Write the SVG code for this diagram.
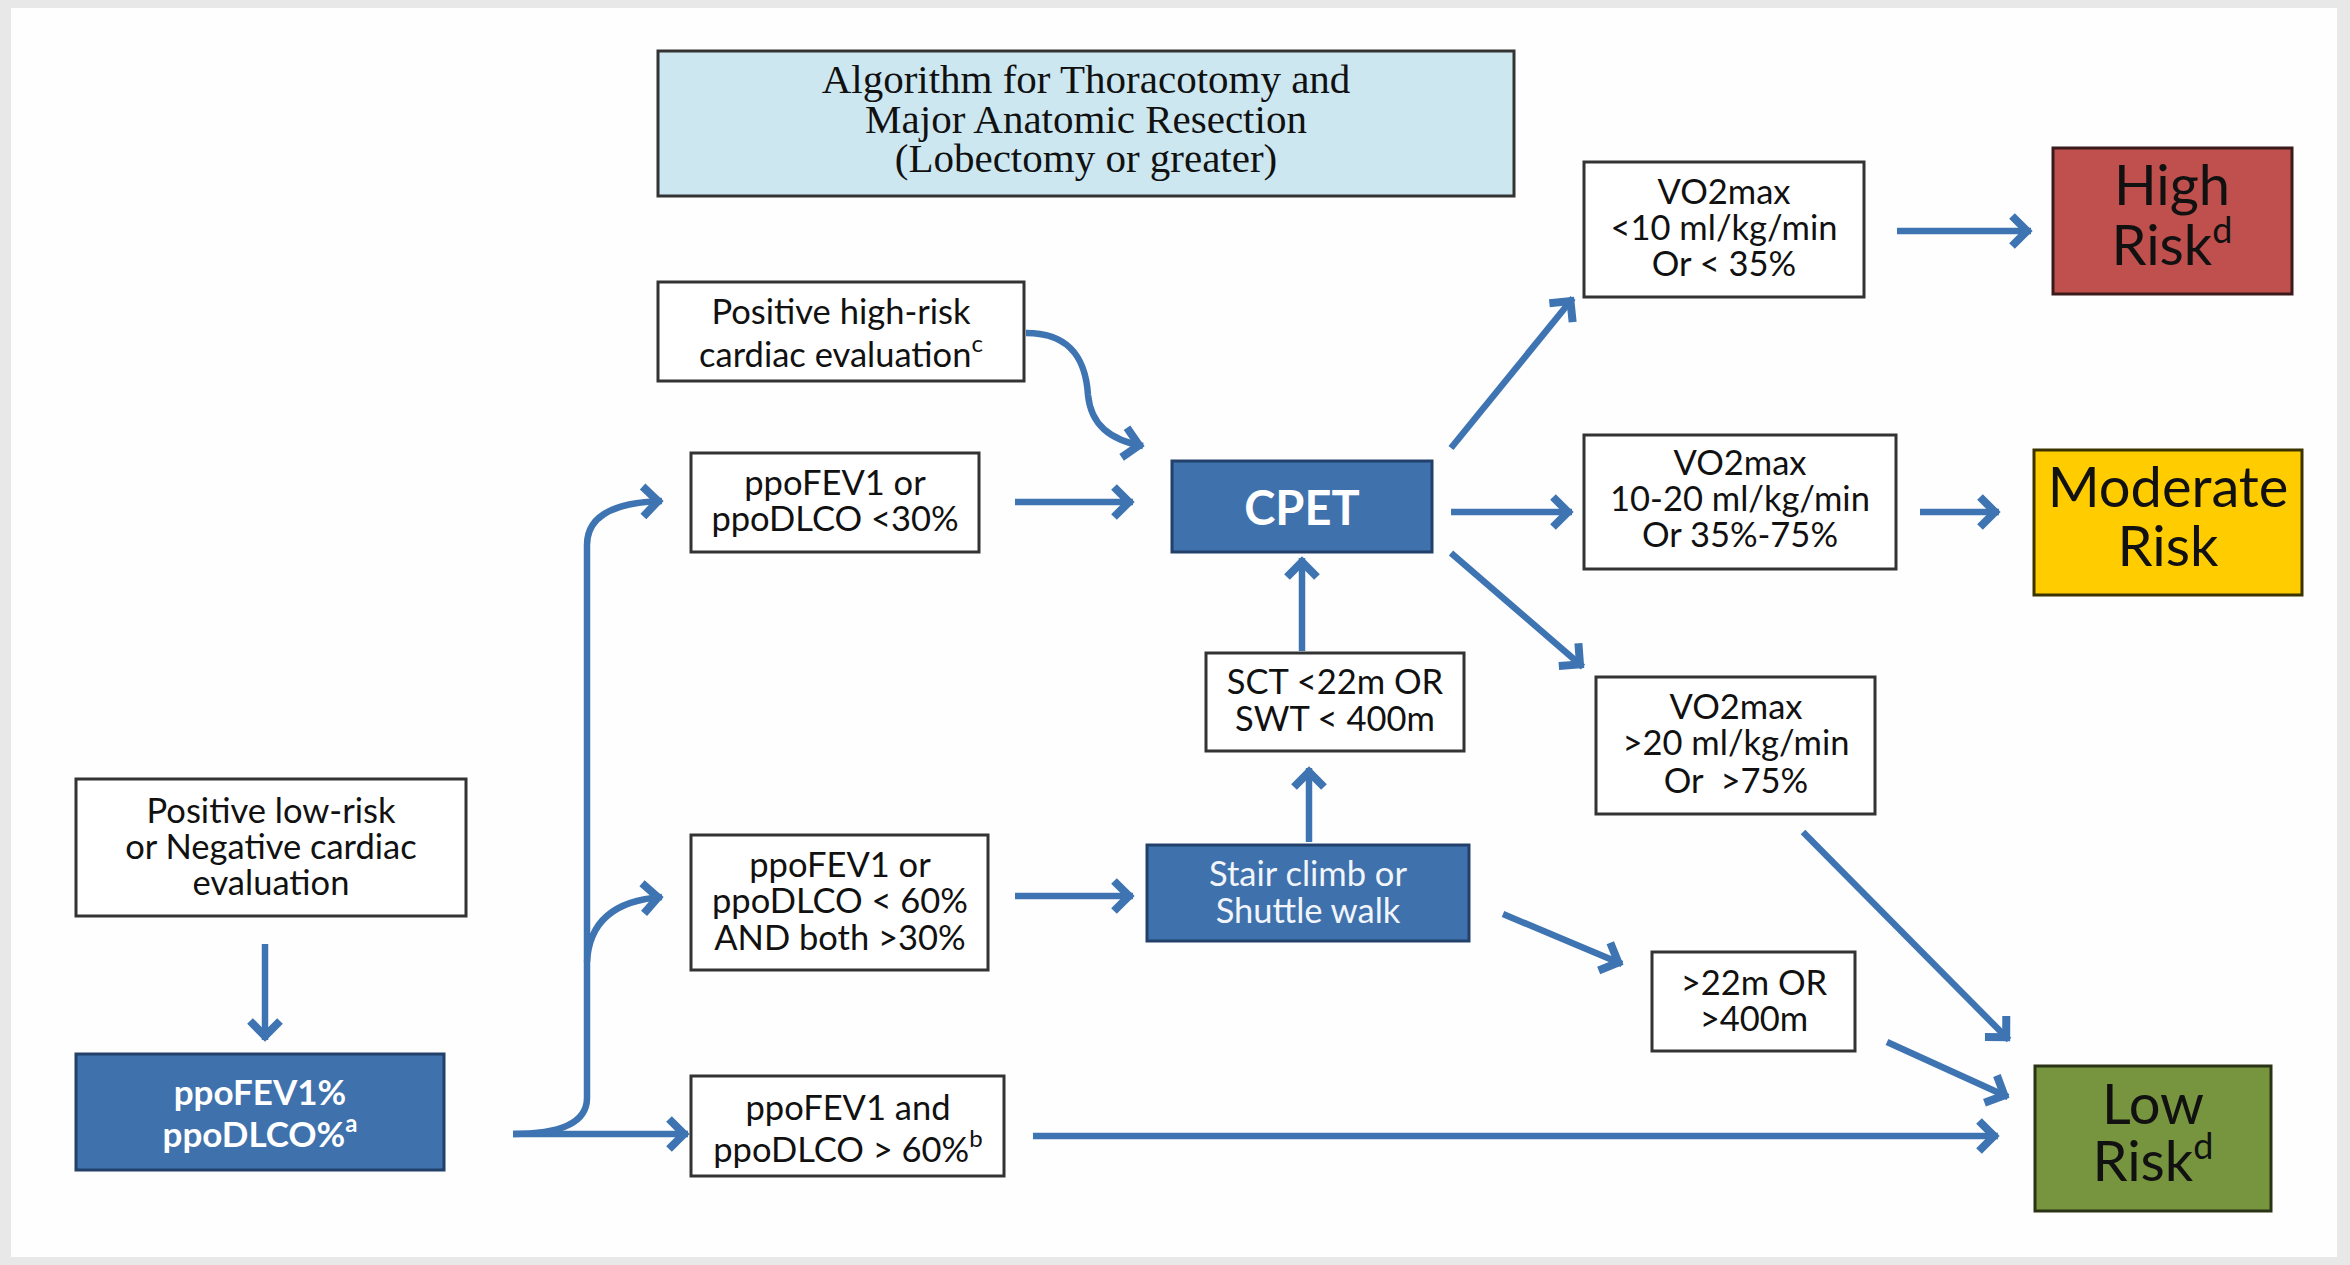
<svg xmlns="http://www.w3.org/2000/svg" width="2350" height="1265" viewBox="0 0 2350 1265">
<defs>
<style>
.box{fill:#ffffff;stroke:#333333;stroke-width:3}
.blue{fill:#3f72ad;stroke:#22406a;stroke-width:3}
.t{font-family:Lato,"Open Sans","Liberation Sans",sans-serif;font-size:34.5px;fill:#111111;text-anchor:middle}
.tw{font-family:Lato,"Open Sans","Liberation Sans",sans-serif;font-size:34.5px;fill:#f2f5fa;text-anchor:middle}
.tb{font-family:Lato,"Open Sans","Liberation Sans",sans-serif;font-weight:bold;fill:#ffffff;text-anchor:middle}
.big{font-family:Lato,"Open Sans","Liberation Sans",sans-serif;font-size:56px;fill:#111111;text-anchor:middle}
.title{font-family:"Liberation Serif","Times New Roman",serif;font-size:41px;fill:#111111;text-anchor:middle}
.sup{font-size:24px}
.bsup{font-size:36px}
.c{fill:none;stroke:#3d74b1;stroke-width:6.5;marker-end:url(#ah)}
</style>
<marker id="ah" markerUnits="userSpaceOnUse" viewBox="-30 -20 40 40" markerWidth="40" markerHeight="40" refX="0" refY="0" orient="auto" overflow="visible">
<path d="M-19,-15 L-4,0 L-19,15" fill="none" stroke="#3d74b1" stroke-width="8"/>
</marker>
</defs>
<rect x="0" y="0" width="2350" height="1265" fill="#e8e8e8"/>
<rect x="11" y="8" width="2326" height="1249" fill="#fefefe"/>

<g id="connectors">
<path class="c" d="M265,944 L265,1040"/>
<path class="c" d="M513,1134 L688,1134"/>
<path class="c" d="M513,1134 Q587,1134 587,1098 L587,545 Q587,503 662,501"/>
<path class="c" d="M587,962 Q590,902 662,897"/>
<path class="c" d="M1015,502 L1133,502"/>
<path class="c" d="M1026,333 C1075,333 1086,365 1088,395 C1091,425 1110,440 1143,446"/>
<path class="c" d="M1015,896 L1133,896"/>
<path class="c" d="M1309,842 L1309,768"/>
<path class="c" d="M1302,651 L1302,558"/>
<path class="c" d="M1503,914 L1622,964"/>
<path class="c" d="M1451,448 L1573,298"/>
<path class="c" d="M1451,512 L1572,512"/>
<path class="c" d="M1451,553 L1583,667"/>
<path class="c" d="M1897,231 L2031,231"/>
<path class="c" d="M1920,512 L1999,512"/>
<path class="c" d="M1803,832 L2009,1040"/>
<path class="c" d="M1887,1042 L2008,1097"/>
<path class="c" d="M1033,1136 L1998,1136"/>
</g>

<g id="title">
<rect x="658" y="51" width="856" height="145" fill="#cde7f1" stroke="#333333" stroke-width="3"/>
<text class="title" x="1086" y="93">Algorithm for Thoracotomy and</text>
<text class="title" x="1086" y="133">Major Anatomic Resection</text>
<text class="title" x="1086" y="172">(Lobectomy or greater)</text>
</g>

<g id="high-risk-cardiac">
<rect class="box" x="658" y="282" width="366" height="99"/>
<text class="t" x="841" y="324">Positive high-risk</text>
<text class="t" x="841" y="367">cardiac evaluation<tspan class="sup" dy="-15">c</tspan></text>
</g>

<g id="ppo-lt30">
<rect class="box" x="691" y="453" width="288" height="99"/>
<text class="t" x="835" y="495">ppoFEV1 or</text>
<text class="t" x="835" y="531">ppoDLCO &lt;30%</text>
</g>

<g id="cpet">
<rect class="blue" x="1172" y="461" width="260" height="91"/>
<text class="tb" x="1302" y="525" font-size="47">CPET</text>
</g>

<g id="sct">
<rect class="box" x="1206" y="653" width="258" height="98"/>
<text class="t" x="1335" y="694">SCT &lt;22m OR</text>
<text class="t" x="1335" y="731">SWT &lt; 400m</text>
</g>

<g id="stair">
<rect class="blue" x="1147" y="845" width="322" height="96"/>
<text class="tw" x="1308" y="886">Stair climb or</text>
<text class="tw" x="1308" y="923">Shuttle walk</text>
</g>

<g id="ppo-30-60">
<rect class="box" x="691" y="835" width="297" height="135"/>
<text class="t" x="840" y="877">ppoFEV1 or</text>
<text class="t" x="840" y="913">ppoDLCO &lt; 60%</text>
<text class="t" x="840" y="950">AND both &gt;30%</text>
</g>

<g id="ppo-gt60">
<rect class="box" x="691" y="1076" width="313" height="100"/>
<text class="t" x="848" y="1120">ppoFEV1 and</text>
<text class="t" x="848" y="1162">ppoDLCO &gt; 60%<tspan class="sup" dy="-15">b</tspan></text>
</g>

<g id="low-risk-cardiac">
<rect class="box" x="76" y="779" width="390" height="137"/>
<text class="t" x="271" y="823">Positive low-risk</text>
<text class="t" x="271" y="859">or Negative cardiac</text>
<text class="t" x="271" y="895">evaluation</text>
</g>

<g id="ppo-pct">
<rect class="blue" x="76" y="1054" width="368" height="116"/>
<text class="tb" x="260" y="1105" font-size="35">ppoFEV1%</text>
<text class="tb" x="260" y="1147" font-size="35">ppoDLCO%<tspan class="sup" dy="-15">a</tspan></text>
</g>

<g id="vo2-lt10">
<rect class="box" x="1584" y="162" width="280" height="135"/>
<text class="t" x="1724" y="204">VO2max</text>
<text class="t" x="1724" y="240">&lt;10 ml/kg/min</text>
<text class="t" x="1724" y="276">Or &lt; 35%</text>
</g>

<g id="vo2-10-20">
<rect class="box" x="1584" y="435" width="312" height="134"/>
<text class="t" x="1740" y="475">VO2max</text>
<text class="t" x="1740" y="511">10-20 ml/kg/min</text>
<text class="t" x="1740" y="547">Or 35%-75%</text>
</g>

<g id="vo2-gt20">
<rect class="box" x="1596" y="677" width="279" height="137"/>
<text class="t" x="1736" y="719">VO2max</text>
<text class="t" x="1736" y="755">&gt;20 ml/kg/min</text>
<text class="t" x="1736" y="793" xml:space="preserve">Or  &gt;75%</text>
</g>

<g id="walk-ok">
<rect class="box" x="1652" y="952" width="203" height="99"/>
<text class="t" x="1754" y="995">&gt;22m OR</text>
<text class="t" x="1754" y="1031">&gt;400m</text>
</g>

<g id="high-risk">
<rect x="2053" y="148" width="239" height="146" fill="#c0504d" stroke="#3a1a1a" stroke-width="3"/>
<text class="big" x="2172" y="205">High</text>
<text class="big" x="2172" y="265">Risk<tspan class="bsup" dy="-22">d</tspan></text>
</g>

<g id="moderate-risk">
<rect x="2034" y="450" width="268" height="145" fill="#ffcc00" stroke="#3a3300" stroke-width="3"/>
<text class="big" x="2168" y="507">Moderate</text>
<text class="big" x="2168" y="566">Risk</text>
</g>

<g id="low-risk">
<rect x="2035" y="1066" width="236" height="145" fill="#77943f" stroke="#2a3315" stroke-width="3"/>
<text class="big" x="2153" y="1124">Low</text>
<text class="big" x="2153" y="1181">Risk<tspan class="bsup" dy="-22">d</tspan></text>
</g>
</svg>
